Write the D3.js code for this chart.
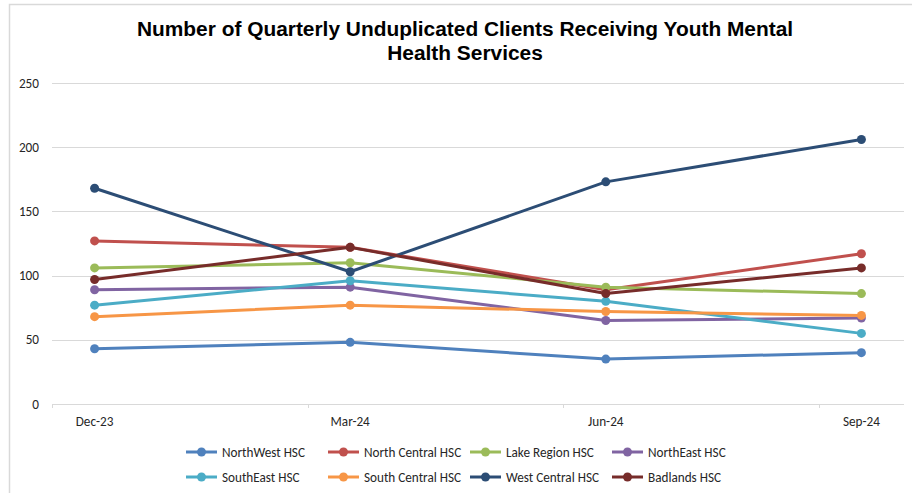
<!DOCTYPE html>
<html>
<head>
<meta charset="utf-8">
<script src="https://cdn.jsdelivr.net/npm/d3@7"></script>
<style>
  body { margin: 0; background: #fff; }
  svg { display: block; }
</style>
</head>
<body>
<svg id="chart" width="912" height="493"></svg>
<script>
const width = 912,
  height = 493;

// data
const quarters = ["Dec-23", "Mar-24", "Jun-24", "Sep-24"];
const monthIndex = [0, 3, 6, 9];
const seriesNames = [
  "NorthWest HSC",
  "North Central HSC",
  "Lake Region HSC",
  "NorthEast HSC",
  "SouthEast HSC",
  "South Central HSC",
  "West Central HSC",
  "Badlands HSC",
];
const northWest = [43, 48, 35, 40];
const northCentral = [127, 122, 89, 117];
const lakeRegion = [106, 110, 91, 86];
const northEast = [89, 91, 65, 67];
const southEast = [77, 96, 80, 55];
const southCentral = [68, 77, 72, 69];
const westCentral = [168, 103, 173, 206];
const badlands = [97, 122, 86, 106];
const yTicks = [0, 50, 100, 150, 200, 250];

const colors = [
  "#4F81BD",
  "#C0504D",
  "#9BBB59",
  "#8064A2",
  "#4BACC6",
  "#F79646",
  "#2C4D75",
  "#772C2A",
];

const allValues = [
  northWest,
  northCentral,
  lakeRegion,
  northEast,
  southEast,
  southCentral,
  westCentral,
  badlands,
];
const series = seriesNames.map((name, i) => ({
  name: name,
  color: colors[i],
  values: allValues[i],
}));

const svg = d3.select("#chart");

// chart border (only left and top edges show in the frame)
svg
  .append("path")
  .attr("d", `M9.5,${height}V4.5H${width}`)
  .attr("fill", "none")
  .attr("stroke", "#d9d9d9")
  .attr("stroke-width", 1.5);

// title
svg
  .append("text")
  .attr("x", 465)
  .attr("y", 36)
  .attr("text-anchor", "middle")
  .style("font-family", "'Liberation Sans', Arial, sans-serif")
  .style("font-weight", "bold")
  .style("font-size", "20.9px")
  .style("fill", "#000")
  .selectAll("tspan")
  .data([
    "Number of Quarterly Unduplicated Clients Receiving Youth Mental",
    "Health Services",
  ])
  .join("tspan")
  .attr("x", 465)
  .attr("dy", (d, i) => (i == 0 ? 0 : 24))
  .text((d) => d);

// scales: month-based date axis, ten month slots, points in the middle
const x = d3.scaleLinear().domain([0, 10]).range([52, 904]);
const y = d3.scaleLinear().domain([0, 250]).range([404, 83]);

const font = "Carlito, Calibri, 'Open Sans', 'Noto Sans', sans-serif";
const fontSize = "13.2px";

// gridlines
svg
  .append("g")
  .selectAll("line")
  .data(yTicks)
  .join("line")
  .attr("x1", x(0))
  .attr("x2", x(10))
  .attr("y1", (d) => Math.round(y(d)) + 0.5)
  .attr("y2", (d) => Math.round(y(d)) + 0.5)
  .attr("stroke", "#d9d9d9")
  .attr("stroke-width", 1.2);

// y labels
svg
  .append("g")
  .selectAll("text")
  .data(yTicks)
  .join("text")
  .attr("x", 39)
  .attr("y", (d) => y(d) + 4.5)
  .attr("text-anchor", "end")
  .style("font-family", font)
  .style("font-size", fontSize)
  .style("fill", "#262626")
  .text((d) => d);

// x ticks every three months
svg
  .append("g")
  .selectAll("line")
  .data([0, 3, 6, 9])
  .join("line")
  .attr("x1", (d) => Math.round(x(d)) + 0.5)
  .attr("x2", (d) => Math.round(x(d)) + 0.5)
  .attr("y1", y(0))
  .attr("y2", y(0) + 4)
  .attr("stroke", "#d9d9d9");

// x labels
svg
  .append("g")
  .selectAll("text")
  .data(quarters)
  .join("text")
  .attr("x", (d, i) => x(monthIndex[i] + 0.5))
  .attr("y", 426)
  .attr("text-anchor", "middle")
  .style("font-family", font)
  .style("font-size", fontSize)
  .style("fill", "#262626")
  .text((d) => d);

const line = d3
  .line()
  .x((d, i) => x(monthIndex[i] + 0.5))
  .y((d) => y(d));

const groups = svg
  .append("g")
  .selectAll("g")
  .data(series)
  .join("g");

groups
  .append("path")
  .attr("d", (d) => line(d.values))
  .attr("fill", "none")
  .attr("stroke", (d) => d.color)
  .attr("stroke-width", 3)
  .attr("stroke-linejoin", "round");

groups
  .selectAll("circle")
  .data((d) => d.values.map((v, i) => ({ v: v, i: i, color: d.color })))
  .join("circle")
  .attr("cx", (d) => x(monthIndex[d.i] + 0.5))
  .attr("cy", (d) => y(d.v))
  .attr("r", 4.5)
  .attr("fill", (d) => d.color);

// legend, two rows of four
const legend = svg
  .append("g")
  .selectAll("g")
  .data(series)
  .join("g")
  .attr(
    "transform",
    (d, i) => `translate(${186 + (i % 4) * 142},${i < 4 ? 452 : 477})`
  );

legend
  .append("line")
  .attr("x1", 0)
  .attr("x2", 31)
  .attr("stroke", (d) => d.color)
  .attr("stroke-width", 3);

legend
  .append("circle")
  .attr("cx", 15.5)
  .attr("r", 4.5)
  .attr("fill", (d) => d.color);

legend
  .append("text")
  .attr("x", 36)
  .attr("y", 4.5)
  .style("font-family", font)
  .style("font-size", fontSize)
  .style("fill", "#262626")
  .text((d) => d.name);
</script>
</body>
</html>
